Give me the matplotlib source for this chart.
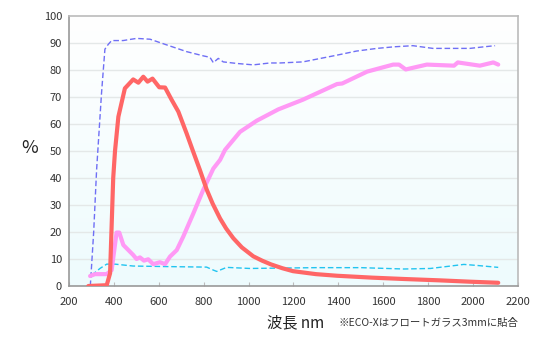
import numpy as np
import matplotlib
matplotlib.use("Agg")
import matplotlib.pyplot as plt
from matplotlib.colors import LinearSegmentedColormap

plt.rcParams['font.family'] = ['Noto Sans CJK JP', 'DejaVu Sans']

# Blue dashed series
blue_x = [295, 310, 323, 345, 360, 375, 390, 441, 501, 561, 635, 724, 800, 828, 843, 865, 887, 950, 1021, 1095, 1140, 1242, 1394, 1480, 1572, 1650, 1732, 1821, 1900, 1986, 2050, 2098]
blue_y = [0, 20, 43, 71.5, 87.7, 89.5, 90.9, 90.9, 91.7, 91.4, 89.3, 86.8, 85.2, 84.7, 82.7, 84.3, 83.0, 82.4, 81.9, 82.6, 82.6, 83.0, 85.5, 87.0, 88.0, 88.6, 89.0, 88.0, 88.0, 88.0, 88.6, 89.0]

# Red series
red_x = [286, 368, 383, 397, 405, 420, 449, 486, 509, 531, 550, 572, 602, 628, 657, 687, 724, 750, 783, 813, 840, 873, 900, 932, 970, 1021, 1060, 1100, 1150, 1198, 1300, 1394, 1550, 1692, 1850, 1986, 2112]
red_y = [0, 0.3, 4.7, 40, 50, 62.7, 73.2, 76.5, 75.3, 77.5, 75.7, 76.8, 73.6, 73.5, 69.0, 64.6, 56.5, 50.5, 43.0, 35.8, 30.5, 25.0, 21.3, 17.7, 14.3, 11.0, 9.4, 8.0, 6.6, 5.5, 4.4, 3.8, 3.1, 2.6, 2.1, 1.6, 1.2]

# Pink series
pink_x = [294, 316, 368, 390, 412, 424, 442, 486, 501, 516, 534, 553, 575, 605, 628, 650, 680, 709, 754, 798, 843, 873, 895, 962, 1036, 1132, 1242, 1394, 1417, 1528, 1644, 1670, 1700, 1794, 1915, 1932, 2030, 2090, 2112]
pink_y = [3.7, 4.4, 4.4, 5.9, 19.8, 19.8, 15.2, 11.5, 10.0, 10.6, 9.4, 9.9, 8.1, 8.8, 8.1, 10.9, 13.3, 18.3, 26.9, 35.6, 43.5, 46.7, 50.4, 57.1, 61.2, 65.4, 69.0, 74.8, 75.0, 79.4, 82.0, 82.0, 80.2, 82.0, 81.6, 82.8, 81.6, 82.8, 82.0]

# Cyan dashed series
cyan_x = [301, 338, 368, 405, 486, 635, 813, 843, 858, 902, 1006, 1100, 1300, 1500, 1692, 1810, 1900, 1959, 2020, 2112]
cyan_y = [4.0, 6.5, 8.1, 8.1, 7.4, 7.2, 7.0, 5.9, 5.4, 6.9, 6.5, 6.6, 6.8, 6.8, 6.3, 6.5, 7.4, 8.0, 7.6, 6.9]

x_ticks = [200, 400, 600, 800, 1000, 1200, 1400, 1600, 1800, 2000, 2200]
y_ticks = [0, 10, 20, 30, 40, 50, 60, 70, 80, 90, 100]

fig = plt.figure(figsize=(5.55, 3.38), dpi=100)
ax = fig.add_axes([0.1243, 0.1538, 0.8090, 0.7989])

# background gradient (white at top, pale cyan at bottom)
cmap = LinearSegmentedColormap.from_list('bg', ['#FFFFFF', '#EEFBFD'])
grad = np.linspace(0, 1, 256).reshape(-1, 1)
ax.imshow(grad, extent=[200, 2200, 0, 100], aspect='auto', cmap=cmap, zorder=0, origin='upper')

for yv in y_ticks[1:-1]:
    ax.axhline(yv, color='#E4E8E8', lw=1, zorder=1)

ax.plot(blue_x, blue_y, color='#6F6FF5', lw=1.0, ls=(0, (4, 2)), zorder=3)
ax.plot(cyan_x, cyan_y, color='#22C4F0', lw=1.0, ls=(0, (4, 2)), zorder=3)
ax.plot(pink_x, pink_y, color='#FF99F5', lw=3.0, zorder=4, solid_capstyle='round', solid_joinstyle='round')
ax.plot(red_x, red_y, color='#FF6666', lw=3.0, zorder=5, solid_capstyle='round', solid_joinstyle='round')

ax.set_xlim(200, 2200)
ax.set_ylim(0, 100)
ax.set_xticks(x_ticks)
ax.set_yticks(y_ticks)
ax.tick_params(axis='x', direction='in', length=3, color='#BBBBBB', labelsize=8, labelcolor='#333333', pad=8)
ax.tick_params(axis='y', length=0, labelsize=8, labelcolor='#333333', pad=5)
for s in ax.spines.values():
    s.set_color('#BBBBBB')
    s.set_linewidth(1.2)
ax.spines['left'].set_color('#999999')
ax.spines['bottom'].set_color('#999999')

fig.text(30 / 555, 1 - 148 / 338, '%', fontsize=13, ha='center', va='center', color='#222222')
fig.text(267 / 555, 1 - 323 / 338, '波長 nm', fontsize=11, ha='left', va='center', color='#222222')
fig.text(518 / 555, 1 - 323 / 338, '※ECO-Xはフロートガラス3mmに貼合', fontsize=7.5, ha='right', va='center', color='#333333')

fig.savefig('out.png', dpi=100)
